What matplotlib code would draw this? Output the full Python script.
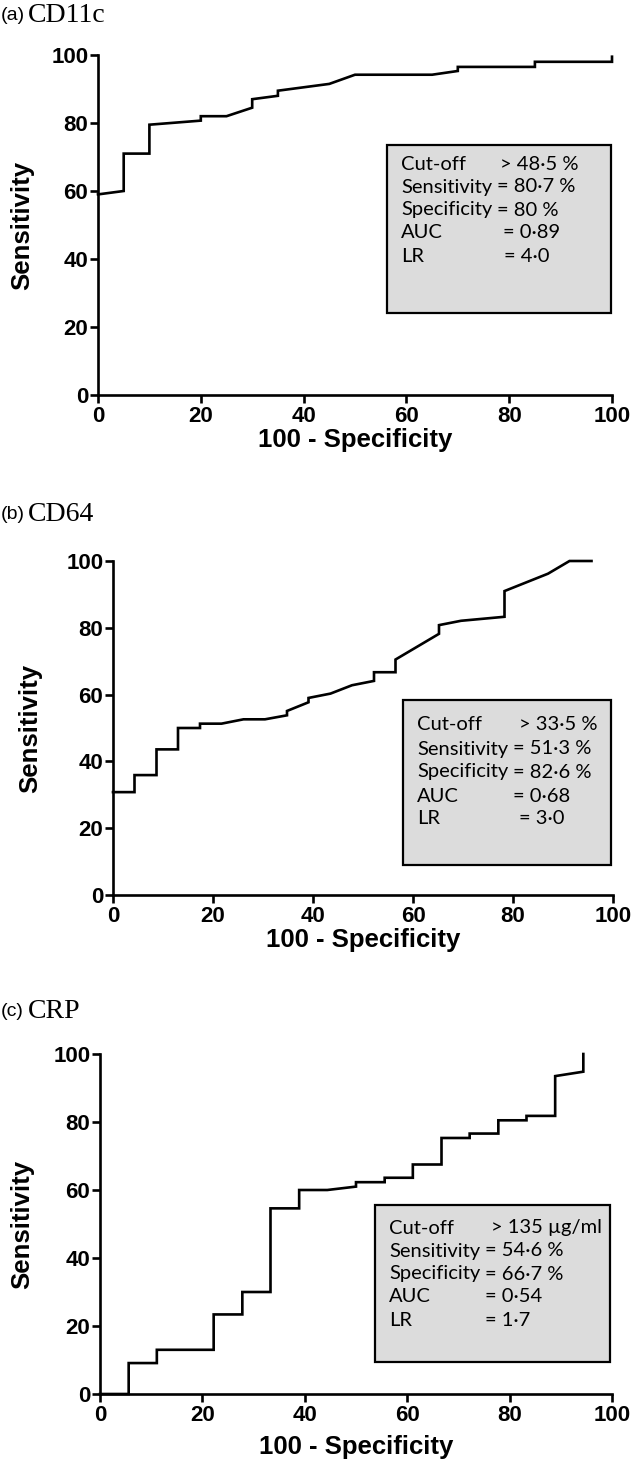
import matplotlib
matplotlib.use("Agg")
import matplotlib.pyplot as plt
from matplotlib.patches import Rectangle

# ROC curves (x = 100 - specificity, y = sensitivity)
cd11c_x = [0, 5, 5, 10, 10, 20, 20, 25, 30, 30, 35, 35, 45, 50, 65, 70, 70, 85, 85, 100, 100]
cd11c_y = [59, 60, 71, 71, 79.5, 80.7, 82, 82, 84.5, 87, 88, 89.5, 91.5, 94.2, 94.2, 95.3, 96.5, 96.5, 98, 98, 99.5]

cd64_x = [0, 4.3, 4.3, 8.7, 8.7, 13.0, 13.0, 17.4, 17.4, 21.7, 26.1, 30.4, 34.8, 34.8, 39.1, 39.1,
          43.5, 47.8, 52.2, 52.2, 56.5, 56.5, 65.2, 65.2, 69.6, 78.3, 78.3, 87.0, 91.3, 95.7]
cd64_y = [30.8, 30.8, 35.9, 35.9, 43.6, 43.6, 50.0, 50.0, 51.3, 51.3, 52.6, 52.6, 53.8, 55.1, 57.7, 59.0,
          60.3, 62.8, 64.1, 66.7, 66.7, 70.5, 78.2, 80.8, 82.1, 83.3, 91.0, 96.2, 100, 100]

crp_x = [0, 5.6, 5.6, 11.1, 11.1, 22.2, 22.2, 27.8, 27.8, 33.3, 33.3, 38.9, 38.9, 44.4, 50.0, 50.0,
         55.6, 55.6, 61.1, 61.1, 66.7, 66.7, 72.2, 72.2, 77.8, 77.8, 83.3, 83.3, 88.9, 88.9, 94.4, 94.4]
crp_y = [0, 0, 9.1, 9.1, 13.0, 13.0, 23.4, 23.4, 30.0, 30.0, 54.6, 54.6, 60.0, 60.0, 61.0, 62.3,
         62.3, 63.6, 63.6, 67.5, 67.5, 75.3, 75.3, 76.6, 76.6, 80.5, 80.5, 81.8, 81.8, 93.5, 94.8, 100]

panel_tags = ["(a)", "(b)", "(c)"]
panel_names = ["CD11c", "CD64", "CRP"]

stat_labels = ["Cut-off", "Sensitivity", "Specificity", "AUC", "LR"]
cd11c_stats = ["> 48·5 %", "= 80·7 %", "= 80 %", "= 0·89", "= 4·0"]
cd64_stats = ["> 33·5 %", "= 51·3 %", "= 82·6 %", "= 0·68", "= 3·0"]
crp_stats = ["> 135 µg/ml", "= 54·6 %", "= 66·7 %", "= 0·54", "= 1·7"]

ticks = [0, 20, 40, 60, 80, 100]

W, H = 633, 1475
fig = plt.figure(figsize=(W / 100, H / 100), dpi=100)
renderer = fig.canvas.get_renderer()

# layout in pixels: (left, right, top(y=100), bottom(y=0)), title y, ylabel x, xlabel y
panels = [
    dict(x=cd11c_x, y=cd11c_y, stats=cd11c_stats, px=(98, 612, 55, 395), title_y=16,
         ylab_x=22, xlab_y=440, box=(387, 611, 145, 313), txt_x=401,
         lines=[164, 187, 210, 233, 257], val_dx=[3, 0, 0, 6, 7]),
    dict(x=cd64_x, y=cd64_y, stats=cd64_stats, px=(113, 613, 561, 895), title_y=514,
         ylab_x=30, xlab_y=940, box=(403, 611, 700, 865), txt_x=417,
         lines=[725, 749, 772, 796, 819], val_dx=[6, 0, 0, 0, 6]),
    dict(x=crp_x, y=crp_y, stats=crp_stats, px=(100, 612, 1054, 1394), title_y=1011,
         ylab_x=22, xlab_y=1447, box=(375, 610, 1205, 1362), txt_x=389,
         lines=[1228, 1251, 1274, 1297, 1320], val_dx=[6, 0, 0, 0, 0]),
]

tick_font = dict(family=["Liberation Sans", "DejaVu Sans"], weight="bold", size=16)
label_font = dict(family=["Liberation Sans", "DejaVu Sans"], weight="bold", size=18.5)
box_font = dict(family=["Lato", "DejaVu Sans"], size=14.5)

for i, p in enumerate(panels):
    l, r, t, b = p["px"]
    ax = fig.add_axes([l / W, 1 - b / H, (r - l) / W, (b - t) / H])
    ax.plot(p["x"], p["y"], color="black", lw=1.9, clip_on=False, solid_joinstyle="miter")
    ax.set_xlim(0, 100)
    ax.set_ylim(0, 100)
    ax.set_xticks(ticks)
    ax.set_yticks(ticks)
    ax.set_xticklabels([str(v) for v in ticks], **tick_font)
    ax.set_yticklabels([str(v) for v in ticks], **tick_font)
    for s in ["top", "right"]:
        ax.spines[s].set_visible(False)
    for s in ["left", "bottom"]:
        ax.spines[s].set_linewidth(1.9)
    ax.tick_params(direction="out", length=5.5, width=1.9, pad=1.5)
    ax.tick_params(axis="x", pad=2.5)

    ax.set_ylabel("Sensitivity", **label_font)
    ax.yaxis.set_label_coords((p["ylab_x"] - l) / (r - l), 0.5)
    ax.set_xlabel("100 - Specificity", **label_font)
    ax.xaxis.set_label_coords(0.5, (b - p["xlab_y"]) / (b - t))
    ax.xaxis.label.set_va("center")
    ax.yaxis.label.set_va("center")

    # title: small sans tag followed by serif marker name
    fig.text(1 / W, 1 - p["title_y"] / H, panel_tags[i], fontsize=14,
             family="Liberation Sans", va="center", ha="left")
    fig.text(28 / W, 1 - p["title_y"] / H, panel_names[i], fontsize=20,
             family="Liberation Serif", va="center", ha="left")

    # statistics box
    bx0, bx1, by0, by1 = p["box"]
    fig.patches.append(Rectangle((bx0 / W, 1 - by1 / H), (bx1 - bx0) / W, (by1 - by0) / H,
                                 transform=fig.transFigure, facecolor="#dcdcdc",
                                 edgecolor="black", lw=1.6, zorder=3))
    labels = []
    for j, yy in enumerate(p["lines"]):
        labels.append(fig.text(p["txt_x"] / W, 1 - yy / H, stat_labels[j], va="center",
                               ha="left", zorder=4, **box_font))
    # value column starts just after the word "Sensitivity"
    sens_end = labels[1].get_window_extent(renderer).x1 + 5
    for j, yy in enumerate(p["lines"]):
        fig.text((sens_end + p["val_dx"][j]) / W, 1 - yy / H, p["stats"][j],
                 va="center", ha="left", zorder=4, **box_font)

fig.savefig("out.png", dpi=100)
